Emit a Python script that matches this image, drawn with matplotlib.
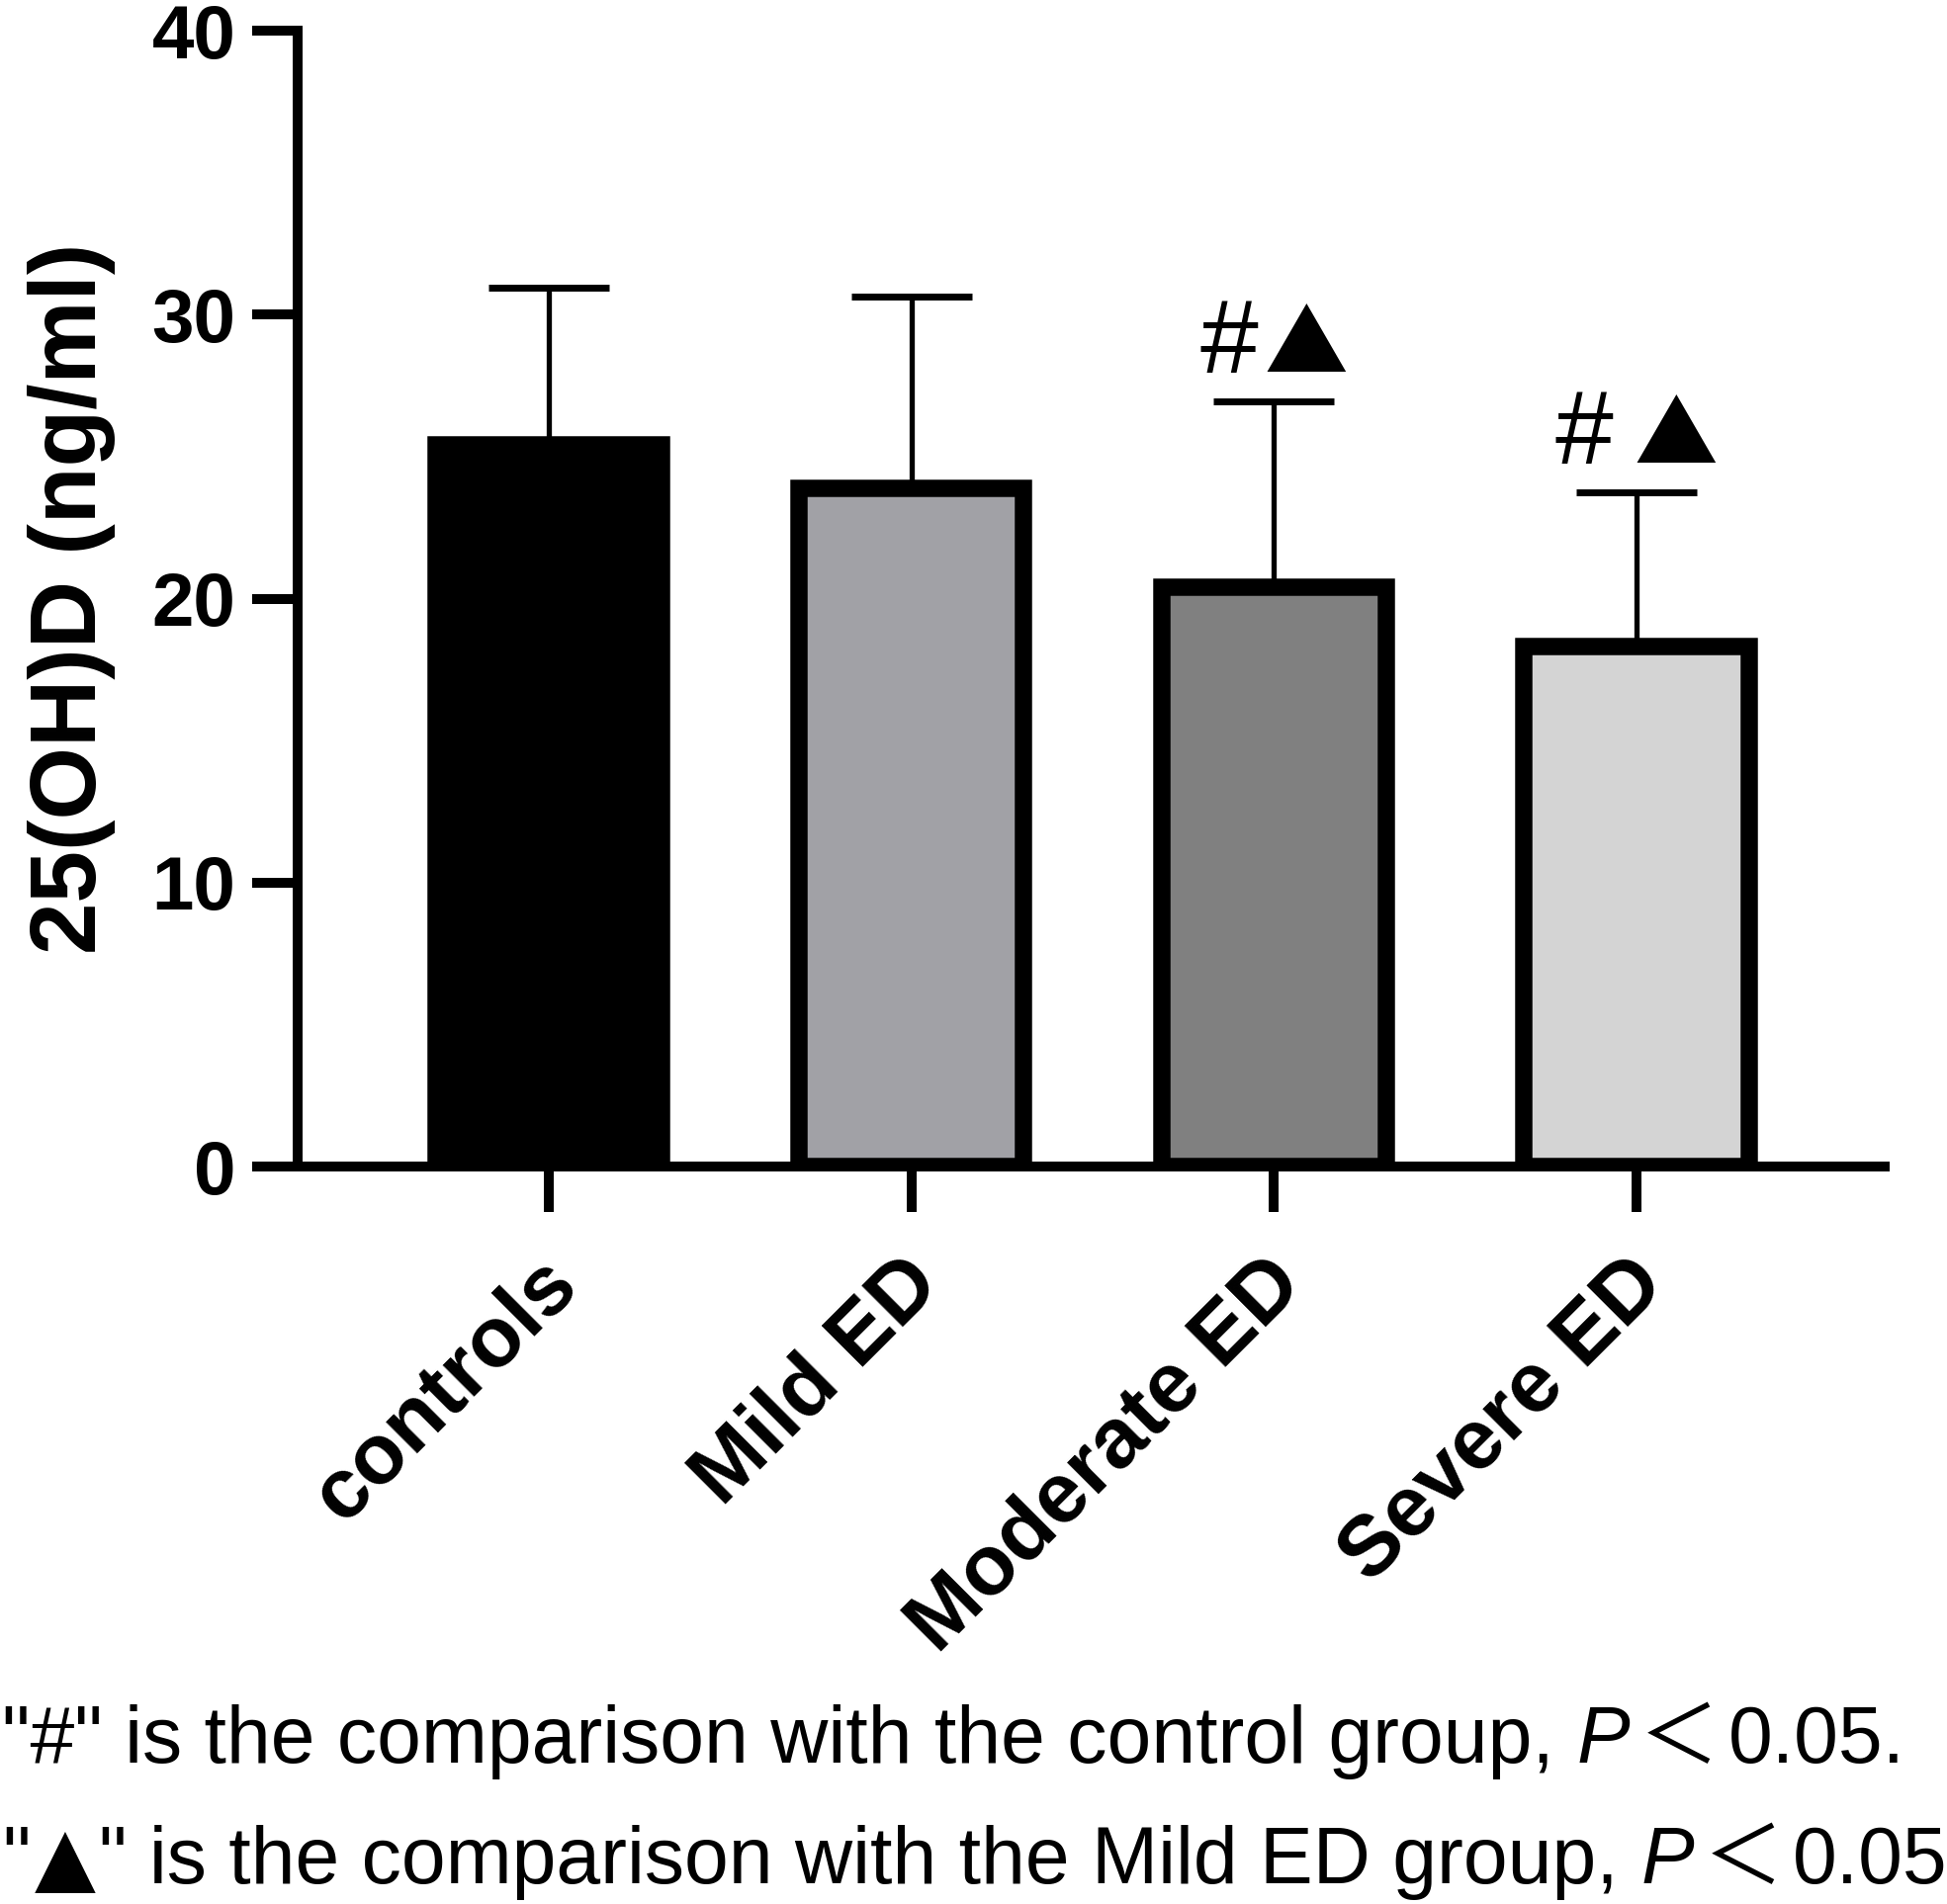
import matplotlib
matplotlib.use("Agg")
import matplotlib.pyplot as plt
from matplotlib import transforms

# -------------------------------------------------------
# Data
# -------------------------------------------------------
groups = ["controls", "Mild ED", "Moderate ED", "Severe ED"]
means = [25.4, 23.9, 20.4, 18.3]
sds = [5.55, 6.75, 6.55, 5.45]
marks = ["", "", "#▲", "# ▲"]
colors = ["#000000", "#a1a1a6", "#808080", "#d4d4d4"]
yticks = [0, 10, 20, 30, 40]

note1 = ['"#" is the comparison with the control group,', "P", "＜", "0.05."]
note2 = ['"', "▲", '" is the comparison with the Mild ED group,', "P", "＜", "0.05"]

plt.rcParams["font.family"] = ["Liberation Sans", "DejaVu Sans"]

W, H = 1969, 1926
fig = plt.figure(figsize=(W / 100, H / 100), dpi=100)
ax = fig.add_axes([0.1529, 0.3873, 0.8151, 0.5966])
renderer = fig.canvas.get_renderer()

x = list(range(len(groups)))
ax.bar(x, means, width=0.62, color=colors, edgecolor="black",
       linewidth=12.6, zorder=2)
ax.errorbar(x, means, yerr=[[0] * len(sds), sds], fmt="none",
            ecolor="black", elinewidth=3.8, capsize=44, capthick=5,
            zorder=3)

ax.set_xlim(-0.692, 3.684)
ax.set_ylim(0, 40)

# significance marks: "#" and a triangle, centred over the error bar
for i, m in enumerate(marks):
    if not m:
        continue
    gap = 21 if " " in m else 6
    y = means[i] + sds[i] + 1.0
    t1 = ax.text(i, y, m[0], ha="left", va="baseline", fontsize=76,
                 family=["Liberation Sans"])
    t2 = ax.text(i, y, m[-1], ha="left", va="baseline", fontsize=61,
                 family=["Noto Sans CJK SC", "DejaVu Sans"])
    w1 = t1.get_window_extent(renderer).width
    w2 = t2.get_window_extent(renderer).width
    left = -(w1 + gap + w2) / 2
    t1.set_transform(transforms.offset_copy(ax.transData, fig, x=left,
                                            y=0, units="dots"))
    t2.set_transform(transforms.offset_copy(ax.transData, fig,
                                            x=left + w1 + gap, y=0,
                                            units="dots"))

ax.set_yticks(yticks)
ax.set_yticklabels([str(v) for v in yticks], fontsize=55, fontweight="bold")

# x labels drawn as rotated texts hanging under each tick
ax.set_xticks(x)
ax.set_xticklabels([])
lab_tr = ax.get_xaxis_transform() + transforms.ScaledTranslation(
    -0.12, -0.78, fig.dpi_scale_trans)
for i, g in enumerate(groups):
    ax.text(i, 0, g, transform=lab_tr, rotation=45, ha="right", va="top",
            rotation_mode="anchor", fontsize=62, fontweight="bold",
            clip_on=False)

for side in ["top", "right"]:
    ax.spines[side].set_visible(False)
for side in ["left", "bottom"]:
    ax.spines[side].set_linewidth(7.2)

ax.tick_params(axis="both", width=7.2, length=33, color="black")
ax.tick_params(axis="y", pad=12)

ax.set_ylabel("25(OH)D (ng/ml)", fontsize=68, fontweight="bold", labelpad=26)

# -------------------------------------------------------
# Footnote, drawn piece by piece
# -------------------------------------------------------
note_size = 58

fam = ["Liberation Sans", "DejaVu Sans"]
reg = dict(family=fam)
ita = dict(family=fam, style="italic")
cjk = dict(family=["Noto Sans CJK SC", "DejaVu Sans"])
tri = dict(family=["DejaVu Sans"], fontsize=58)

em = note_size * 100 / 72
space = 0.278 * em
small = 0.12 * em

lines = [
    (0.0742, note1, [reg, ita, cjk, reg], [space, small, small, 0]),
    (0.0109, note2, [reg, tri, reg, ita, cjk, reg],
     [0.05 * em, 0.05 * em, space, small, small, 0]),
]

for y, texts, styles, gaps in lines:
    xp = 2
    for s, kw, gap in zip(texts, styles, gaps):
        kw = dict(kw)
        size = kw.pop("fontsize", note_size)
        t = fig.text(xp / W, y, s, fontsize=size, va="baseline",
                     ha="left", **kw)
        xp = t.get_window_extent(renderer).x1 + gap

fig.savefig("out.png", dpi=100)
